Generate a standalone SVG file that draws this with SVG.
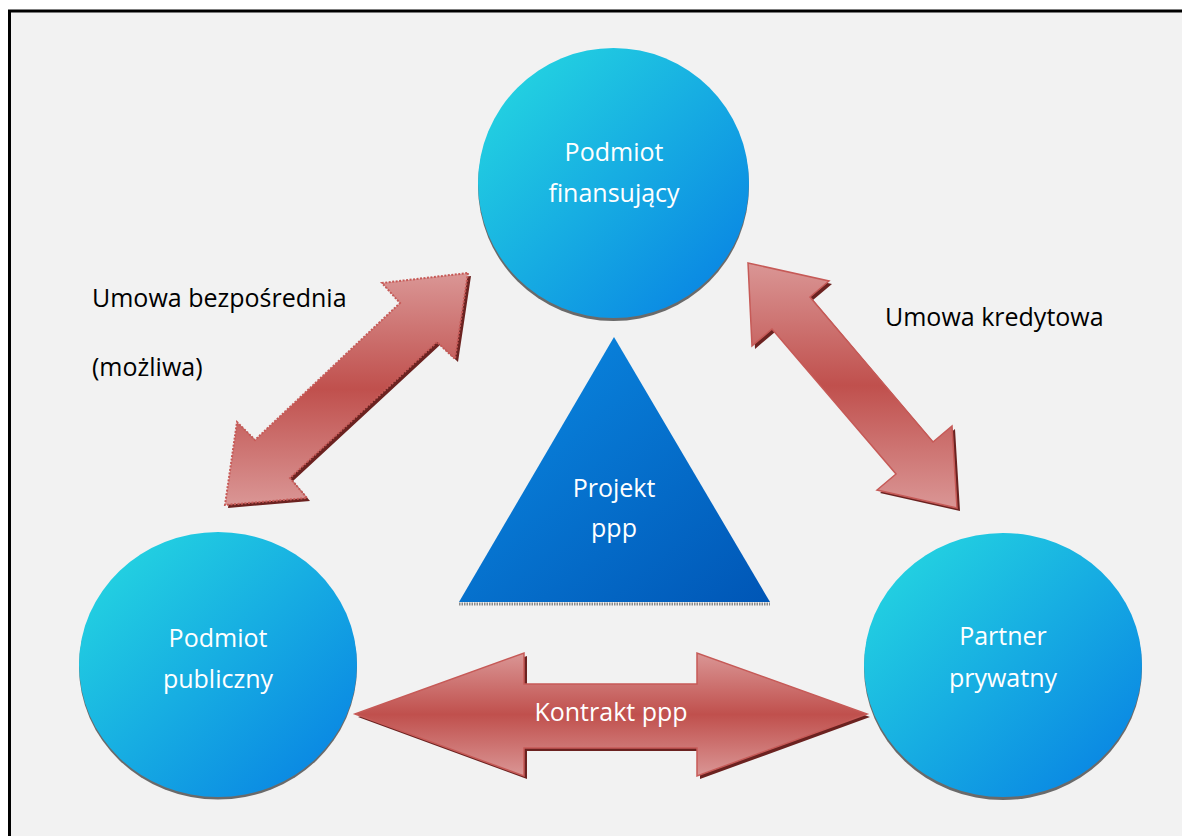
<svg xmlns="http://www.w3.org/2000/svg" width="1182" height="836" viewBox="0 0 1182 836">
<defs>
<linearGradient id="gCircle" x1="0.15" y1="0.15" x2="0.85" y2="0.85">
<stop offset="0" stop-color="#22cee1"/>
<stop offset="1" stop-color="#0b8be3"/>
</linearGradient>
<linearGradient id="gTri" x1="0" y1="0" x2="1" y2="1">
<stop offset="0" stop-color="#0b8ce4"/>
<stop offset="1" stop-color="#0056b6"/>
</linearGradient>
<linearGradient id="gArrow" x1="0" y1="0" x2="0" y2="1">
<stop offset="0" stop-color="#da9695"/>
<stop offset="0.5" stop-color="#c0504d"/>
<stop offset="1" stop-color="#da9695"/>
</linearGradient>
</defs>
<style>
.lbl{font-family:"Open Sans","Noto Sans","Liberation Sans",sans-serif;font-size:25px;fill:#000000}
.in{font-family:"Open Sans","Noto Sans","Liberation Sans",sans-serif;font-size:25px;fill:#ffffff;text-anchor:middle}
.circ{fill:url(#gCircle)}
.csh{fill:#6a6a6a}
.arr{fill:url(#gArrow);stroke:#c65a57;stroke-width:1.5;stroke-linejoin:miter}
.arrd{fill:url(#gArrow);stroke:#c65a57;stroke-width:2;stroke-dasharray:2 1.5}
.ash{fill:#6b2220}
</style>
<rect x="0" y="0" width="1182" height="836" fill="#ffffff"/>
<rect x="9.5" y="11" width="1190" height="840" fill="#f2f2f2" stroke="#000000" stroke-width="3"/>

<g id="connectors">
<g id="arrow-bezposrednia">
<polygon class="ash" transform="translate(3,3)" points="468,273 455,359 437,342 290,478 307,498 225,505 237,422 255,440 400,303 382,283"/>
<polygon class="arrd" points="468,273 455,359 437,342 290,478 307,498 225,505 237,422 255,440 400,303 382,283"/>
</g>
<g id="arrow-kredytowa">
<polygon class="ash" transform="translate(3,3)" points="748,263 829,281 810,297 933,442 952,426 957,508 877,490 896,474 772,329 752,346"/>
<polygon class="arr" points="748,263 829,281 810,297 933,442 952,426 957,508 877,490 896,474 772,329 752,346"/>
</g>
<g id="arrow-kontrakt">
<polygon class="ash" transform="translate(3,3)" points="355,714 524,653 524,684 697,684 697,653 867,714 697,776 697,748 524,748 524,776"/>
<polygon class="arr" points="355,714 524,653 524,684 697,684 697,653 867,714 697,776 697,748 524,748 524,776"/>
<text class="in" x="611" y="721">Kontrakt ppp</text>
</g>
</g>

<g id="node-finansujacy">
<ellipse class="csh" cx="613.5" cy="186" rx="135.5" ry="135"/>
<ellipse class="circ" cx="613.5" cy="183" rx="135.5" ry="135"/>
<text class="in" x="614" y="161">Podmiot</text>
<text class="in" x="614" y="202">finansujący</text>
</g>

<g id="node-publiczny">
<ellipse class="csh" cx="218" cy="667" rx="139" ry="132.5"/>
<ellipse class="circ" cx="218" cy="664.5" rx="139" ry="132.5"/>
<text class="in" x="218" y="647">Podmiot</text>
<text class="in" x="218" y="688">publiczny</text>
</g>

<g id="node-prywatny">
<ellipse class="csh" cx="1003" cy="668" rx="139" ry="132"/>
<ellipse class="circ" cx="1003" cy="665" rx="139" ry="132"/>
<text class="in" x="1003" y="645">Partner</text>
<text class="in" x="1003" y="687">prywatny</text>
</g>

<g id="node-projekt">
<line x1="459" y1="604" x2="770" y2="604" stroke="#8a8a8a" stroke-width="3" stroke-dasharray="1.5 1"/>
<polygon points="614,337 770,602 459,602" fill="url(#gTri)"/>
<text class="in" x="614" y="497">Projekt</text>
<text class="in" x="614" y="537">ppp</text>
</g>

<g id="labels">
<text class="lbl" x="92" y="307">Umowa bezpośrednia</text>
<text class="lbl" x="92" y="376">(możliwa)</text>
<text class="lbl" x="885" y="326">Umowa kredytowa</text>
</g>
</svg>
